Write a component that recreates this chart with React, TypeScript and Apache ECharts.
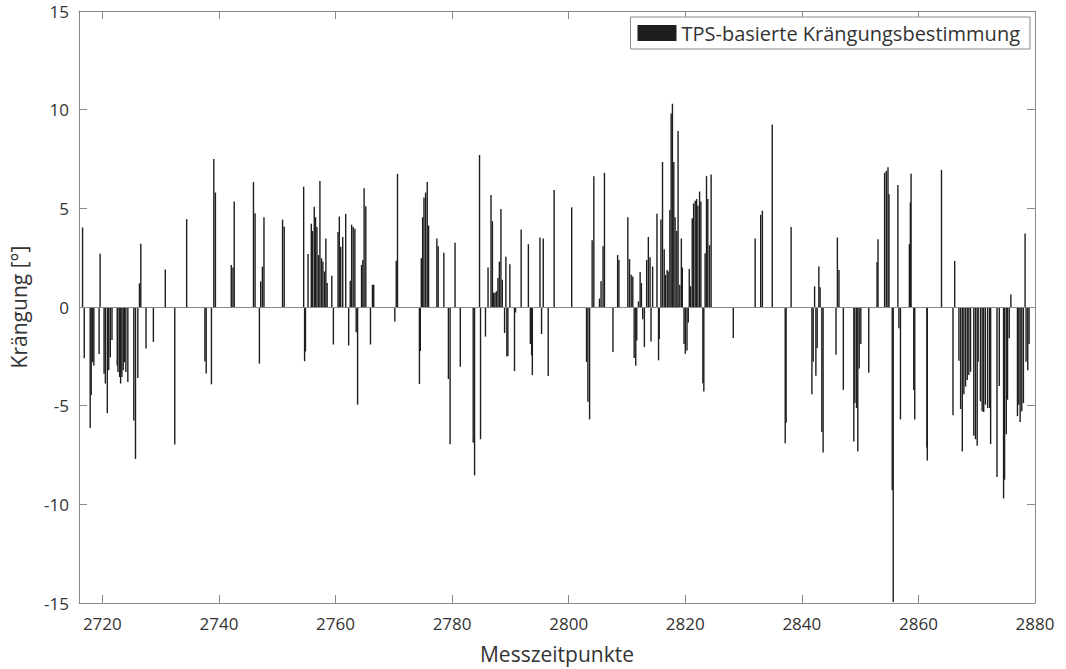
import React, { useEffect, useRef } from "react";
import * as echarts from "echarts";

const measurementTimes: number[] = [
  2716.61, 2716.90, 2717.92, 2718.09, 2718.31, 2718.55, 2719.45, 2719.62, 2720.30, 2720.52,
  2720.86, 2721.10, 2721.37, 2721.66, 2722.56, 2722.68, 2722.97, 2723.14, 2723.36, 2723.59,
  2723.82, 2724.04, 2724.38, 2725.40, 2725.69, 2726.09, 2726.37, 2726.60, 2727.50, 2728.76,
  2730.80, 2732.43, 2734.47, 2737.60, 2737.82, 2738.72, 2739.13, 2739.40, 2742.12, 2742.41,
  2742.63, 2745.93, 2746.20, 2746.95, 2747.17, 2747.46, 2747.73, 2750.92, 2751.20, 2754.54,
  2754.70, 2754.85, 2755.29, 2755.85, 2756.07, 2756.36, 2756.58, 2756.82, 2757.09, 2757.33,
  2757.60, 2757.84, 2758.11, 2758.35, 2758.57, 2759.37, 2759.64, 2760.44, 2760.66, 2760.90,
  2761.24, 2761.75, 2762.26, 2762.53, 2762.77, 2763.04, 2763.33, 2763.55, 2763.79, 2764.47,
  2764.69, 2764.91, 2765.20, 2766.00, 2766.34, 2766.56, 2770.18, 2770.42, 2770.64, 2774.40,
  2774.55, 2774.72, 2774.95, 2775.18, 2775.46, 2775.74, 2775.97, 2777.39, 2777.62, 2778.59,
  2779.37, 2779.66, 2780.51, 2781.41, 2783.62, 2783.86, 2784.71, 2784.88, 2785.73, 2786.17,
  2786.68, 2786.92, 2787.14, 2787.36, 2787.60, 2787.87, 2788.11, 2788.38, 2788.62, 2789.01,
  2789.23, 2789.40, 2789.57, 2789.91, 2790.71, 2790.88, 2791.85, 2793.09, 2793.43, 2793.65,
  2793.77, 2795.08, 2795.35, 2795.64, 2796.49, 2797.51, 2800.52, 2803.07, 2803.30, 2803.59,
  2804.03, 2804.32, 2805.29, 2805.56, 2805.90, 2806.14, 2807.60, 2808.40, 2808.62, 2810.15,
  2810.44, 2810.73, 2811.00, 2811.24, 2811.51, 2811.68, 2811.97, 2812.26, 2812.48, 2812.70,
  2812.99, 2813.38, 2813.67, 2813.96, 2814.13, 2814.40, 2815.15, 2815.42, 2815.54, 2815.83,
  2816.10, 2816.39, 2816.61, 2816.90, 2817.07, 2817.36, 2817.58, 2817.80, 2818.04, 2818.26,
  2818.55, 2818.77, 2819.06, 2819.33, 2819.50, 2819.79, 2820.01, 2820.30, 2820.52, 2820.69,
  2820.93, 2821.20, 2821.44, 2821.71, 2821.95, 2822.17, 2822.46, 2822.68, 2823.02, 2823.19,
  2823.41, 2823.65, 2823.87, 2824.16, 2824.44, 2828.24, 2831.99, 2832.94, 2833.23, 2834.93,
  2837.15, 2837.30, 2838.16, 2841.73, 2841.95, 2842.19, 2842.41, 2842.63, 2842.92, 2843.14,
  2843.43, 2843.65, 2845.86, 2846.10, 2846.37, 2847.12, 2848.92, 2849.09, 2849.38, 2849.60,
  2849.84, 2850.12, 2851.48, 2852.90, 2853.07, 2854.20, 2854.49, 2854.78, 2854.95, 2855.51,
  2855.68, 2856.48, 2856.65, 2856.92, 2858.45, 2858.62, 2858.74, 2859.20, 2859.37, 2861.46,
  2861.52, 2863.96, 2865.93, 2866.22, 2866.95, 2867.24, 2867.53, 2867.80, 2868.09, 2868.38,
  2868.65, 2868.94, 2869.50, 2869.79, 2870.08, 2870.25, 2870.64, 2870.93, 2871.20, 2871.49,
  2871.88, 2872.22, 2872.39, 2873.48, 2873.87, 2874.61, 2874.78, 2875.07, 2875.29, 2875.58,
  2875.86, 2876.99, 2877.22, 2877.45, 2877.73, 2878.01, 2878.30, 2878.47, 2878.76, 2878.98,
];

const heelAngles: number[] = [
  4.03, -2.6, -6.13, -4.47, -2.8, -2.97, -2.38, 2.7, -3.38, -3.88,
  -5.38, -3.2, -2.55, -1.67, -2.97, -3.3, -3.55, -3.88, -3.55, -3.2,
  -2.8, -3.3, -3.8, -5.75, -7.7, -3.6, 1.2, 3.2, -2.1, -1.77,
  1.9, -6.97, 4.45, -2.75, -3.37, -3.92, 7.5, 5.8, 2.13, 2.0,
  5.35, 6.33, 4.75, -2.87, 1.3, 2.05, 4.55, 4.43, 4.08, 6.1,
  -2.75, -2.25, 2.68, 4.22, 3.85, 5.08, 4.55, 4.05, 2.63, 6.38,
  2.47, 2.3, 1.8, 3.47, 1.22, 1.58, -1.9, 3.8, 4.58, 3.05,
  3.55, 4.72, -1.95, 1.33, 4.17, 4.05, 3.97, -1.28, -4.95, 2.13,
  2.38, 6.02, 5.1, -1.9, 1.13, 1.13, -0.73, 2.35, 6.75, -3.9,
  -2.23, 2.47, 4.55, 5.55, 5.8, 6.33, 4.13, 3.47, 3.08, 2.75,
  -3.65, -6.95, 3.25, -3.03, -6.87, -8.53, 7.7, -6.7, -1.5, 2.0,
  5.67, 4.35, 0.72, 0.72, 0.8, 1.47, 2.3, 4.97, 1.38, -1.32,
  2.55, -2.5, -2.5, 2.17, -3.25, -0.28, 3.93, 3.18, -1.87, -2.45,
  -3.45, 3.52, -1.37, 3.47, -3.5, 5.93, 5.05, -2.78, -4.8, -5.7,
  3.38, 6.63, 0.43, 1.3, 3.08, 6.8, -2.28, 2.63, 2.38, 4.55,
  2.43, 1.63, 1.55, -2.58, -2.98, -1.7, 0.28, 1.77, 1.22, -0.62,
  -2.03, 2.38, 3.55, 2.52, -1.75, 2.05, 4.72, -2.7, -1.62, 4.43,
  7.35, 2.93, 1.63, 1.88, 1.8, 4.92, 9.8, 10.3, 7.35, 4.55,
  3.85, 8.92, 1.13, 3.47, 2.0, -1.87, -2.37, -2.2, -0.78, 1.93,
  1.05, 4.5, 5.25, 5.38, 5.47, 5.13, 5.85, 5.35, -3.87, -4.28,
  2.72, 6.63, 5.47, 3.13, 6.72, -1.57, 3.47, 4.67, 4.88, 9.25,
  -6.9, -5.87, 4.05, -4.42, -2.78, 1.05, -3.48, -2.08, 2.05, 1.0,
  -6.33, -7.37, -2.42, 3.52, 1.88, -4.2, -6.82, -4.87, -5.12, -7.32,
  -3.12, -1.87, -3.33, 2.27, 3.43, 6.8, 6.9, 7.08, 5.72, -9.28,
  -14.95, 6.18, -1.08, -5.7, 3.18, 5.3, 6.75, -4.2, -5.7, -7.12,
  -7.78, 6.95, -5.48, 2.33, -2.73, -5.17, -7.32, -4.42, -4.03, -3.7,
  -3.45, -3.28, -6.53, -6.7, -7.03, -2.78, -4.78, -5.28, -5.32, -4.95,
  -5.12, -5.12, -6.95, -8.62, -4.0, -9.7, -8.75, -6.45, -4.7, -1.58,
  0.63, -5.53, -4.95, -5.83, -5.28, -4.87, 3.72, -2.78, -3.2, -1.87,
];

const xTicks: number[] = [2720, 2740, 2760, 2780, 2800, 2820, 2840, 2860, 2880];
const xRange: number[] = [2716, 2880];
const yRange: number[] = [-15, 15];
const seriesName = "TPS-basierte Krängungsbestimmung";
const xTitle = "Messzeitpunkte";
const yTitle = "Krängung [°]";

export default function App() {
  const ref = useRef<HTMLDivElement>(null);
  useEffect(() => {
    if (!ref.current) return;
    const chart = echarts.init(ref.current, null, { renderer: "svg" });
    const axisColor = "#8a8a8a";
    const textColor = "#333";
    const font = "Open Sans";
    const data = measurementTimes.map((t, i) => [t, heelAngles[i]]);
    const xCommon = {
      type: "value" as const,
      min: xRange[0],
      max: xRange[1],
      splitLine: { show: false },
      axisLine: { show: true, onZero: false, lineStyle: { color: axisColor, width: 1 } },
      axisTick: { show: true, inside: true, length: 8, customValues: xTicks, lineStyle: { color: axisColor } },
    };
    const yCommon = {
      type: "value" as const,
      min: yRange[0],
      max: yRange[1],
      interval: 5,
      splitLine: { show: false },
      axisLine: { show: true, onZero: false, lineStyle: { color: axisColor, width: 1 } },
      axisTick: { show: true, inside: true, length: 8, lineStyle: { color: axisColor } },
    };
    chart.setOption({
      animation: false,
      backgroundColor: "#ffffff",
      textStyle: { fontFamily: font, color: textColor },
      grid: { left: 71, right: 31, top: 11, bottom: 58, containLabel: false },
      legend: {
        data: [seriesName],
        right: 36,
        top: 17,
        orient: "horizontal",
        icon: "rect",
        itemWidth: 39,
        itemHeight: 16,
        padding: [6, 10, 6, 7],
        borderColor: axisColor,
        borderWidth: 1,
        borderRadius: 0,
        backgroundColor: "#ffffff",
        textStyle: { fontFamily: font, fontSize: 20, color: textColor },
      },
      xAxis: [
        {
          ...xCommon,
          position: "bottom",
          name: xTitle,
          nameLocation: "middle",
          nameGap: 40,
          nameTextStyle: { fontFamily: font, fontSize: 21, color: textColor },
          axisLabel: {
            show: true,
            customValues: xTicks,
            margin: 12,
            fontSize: 17,
            color: textColor,
            fontFamily: font,
            formatter: (v: number) => String(v),
          },
        },
        {
          ...xCommon,
          position: "top",
          axisLabel: { show: false },
        },
      ],
      yAxis: [
        {
          ...yCommon,
          position: "left",
          name: yTitle,
          nameLocation: "middle",
          nameGap: 50,
          nameRotate: 90,
          nameTextStyle: { fontFamily: font, fontSize: 21, color: textColor },
          axisLabel: { show: true, margin: 10, fontSize: 17, color: textColor, fontFamily: font },
        },
        {
          ...yCommon,
          position: "right",
          axisLabel: { show: false },
        },
      ],
      series: [
        {
          name: seriesName,
          type: "bar",
          xAxisIndex: 0,
          yAxisIndex: 0,
          barWidth: 1.4,
          itemStyle: { color: "#1e1e1e" },
          data,
          markLine: {
            silent: true,
            symbol: ["none", "none"],
            label: { show: false },
            lineStyle: { color: axisColor, width: 1, type: "solid" },
            data: [{ yAxis: 0 }],
          },
        },
      ],
    });
    return () => chart.dispose();
  }, []);
  return <div ref={ref} style={{ position: "fixed", left: 0, top: 0, width: 1066, height: 669 }} />;
}
